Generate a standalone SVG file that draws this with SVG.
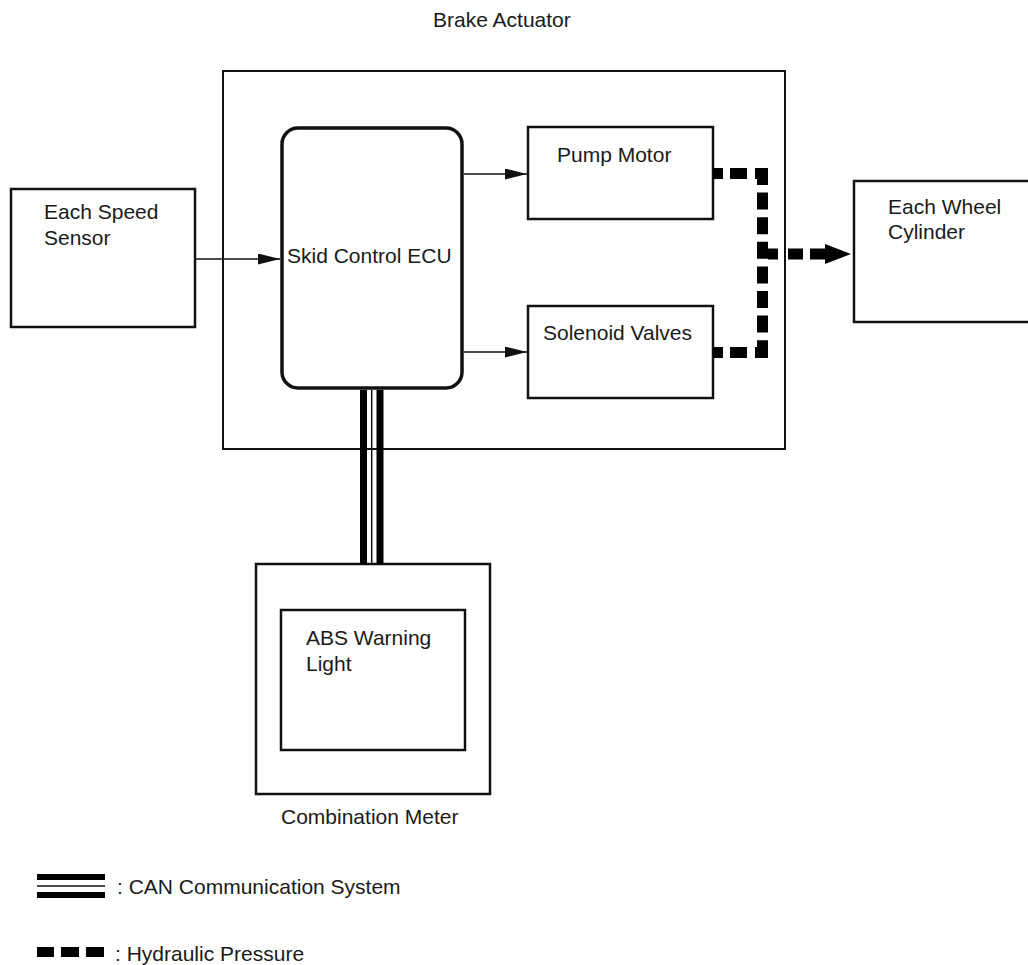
<svg xmlns="http://www.w3.org/2000/svg" width="1028" height="965" viewBox="0 0 1028 965">
  <style>
    .box { fill: #fff; stroke: #111; stroke-width: 2.5; }
    .frame { fill: none; stroke: #111; stroke-width: 2; }
    .ecu { fill: #fff; stroke: #111; stroke-width: 3.5; }
    .lbl { font-family: "Liberation Sans", Arial, sans-serif; font-size: 21px; fill: #1a1a1a; }
    .sig { fill: none; stroke: #111; stroke-width: 1.6; }
    .hyd { fill: none; stroke: #000; stroke-width: 11; stroke-linecap: butt; }
    .can { fill: #000; }
    .canmid { stroke: #111; stroke-width: 1.5; }
  </style>
  <defs>
    <marker id="arrow" markerUnits="userSpaceOnUse" markerWidth="22" markerHeight="11" refX="22" refY="5.5" orient="auto">
      <path d="M0,0 L22,5.5 L0,11 z" fill="#111"/>
    </marker>
  </defs>

  <rect width="1028" height="965" fill="#fff"/>

  <!-- Brake actuator housing -->
  <g id="brake-actuator">
    <rect class="frame" x="223" y="71" width="562" height="378"/>
    <text class="lbl" x="433" y="27">Brake Actuator</text>
  </g>

  <g id="speed-sensor">
    <rect class="box" x="11" y="189" width="184" height="138"/>
    <text class="lbl" x="44" y="219">Each Speed</text>
    <text class="lbl" x="44" y="245">Sensor</text>
  </g>

  <g id="skid-control-ecu">
    <rect class="ecu" x="282" y="128" width="180" height="260" rx="16" ry="16"/>
    <text class="lbl" x="287" y="263">Skid Control ECU</text>
  </g>

  <g id="pump-motor">
    <rect class="box" x="528" y="127" width="185" height="92"/>
    <text class="lbl" x="557" y="162">Pump Motor</text>
  </g>

  <g id="solenoid-valves">
    <rect class="box" x="528" y="306" width="185" height="92"/>
    <text class="lbl" x="543" y="340">Solenoid Valves</text>
  </g>

  <g id="wheel-cylinder">
    <rect class="box" x="854" y="181" width="190" height="141"/>
    <text class="lbl" x="888" y="214">Each Wheel</text>
    <text class="lbl" x="888" y="239">Cylinder</text>
  </g>

  <g id="combination-meter">
    <rect class="box" x="256" y="564" width="234" height="230"/>
    <text class="lbl" x="281" y="824">Combination Meter</text>
  </g>

  <g id="abs-warning-light">
    <rect class="box" x="281" y="610" width="184" height="140"/>
    <text class="lbl" x="306" y="645">ABS Warning</text>
    <text class="lbl" x="306" y="671">Light</text>
  </g>

  <!-- Connectors -->
  <g id="connectors">
    <!-- electrical signals -->
    <path class="sig" d="M195,259 H280" marker-end="url(#arrow)"/>
    <path class="sig" d="M464,174 H527" marker-end="url(#arrow)"/>
    <path class="sig" d="M464,352 H527" marker-end="url(#arrow)"/>

    <!-- CAN bus ECU to meter -->
    <rect class="can" x="360" y="390" width="7" height="174"/>
    <rect class="can" x="376.5" y="390" width="7" height="174"/>
    <line class="canmid" x1="371.7" y1="390" x2="371.7" y2="564"/>

    <!-- hydraulic lines -->
    <path class="hyd" d="M713,173.5 H768" stroke-dasharray="10 7 17 8 13"/>
    <path class="hyd" d="M713,352.5 H768" stroke-dasharray="10 7 17 8 13"/>
    <path class="hyd" d="M762.5,168 V358" stroke-dasharray="17 7.6"/>
    <path class="hyd" d="M768,254 H825" stroke-dasharray="10 10 15 7 15"/>
    <path d="M825,244 L851,254 L825,264 z" fill="#000"/>
  </g>

  <!-- Legend -->
  <g id="legend">
    <rect class="can" x="37" y="874" width="68" height="6"/>
    <line class="canmid" x1="37" y1="886" x2="105" y2="886"/>
    <rect class="can" x="37" y="892" width="68" height="6"/>
    <text class="lbl" x="117" y="894">: CAN Communication System</text>

    <rect class="can" x="37" y="947" width="17" height="10"/>
    <rect class="can" x="61" y="947" width="18" height="10"/>
    <rect class="can" x="86" y="947" width="18" height="10"/>
    <text class="lbl" x="115" y="961">: Hydraulic Pressure</text>
  </g>
</svg>
